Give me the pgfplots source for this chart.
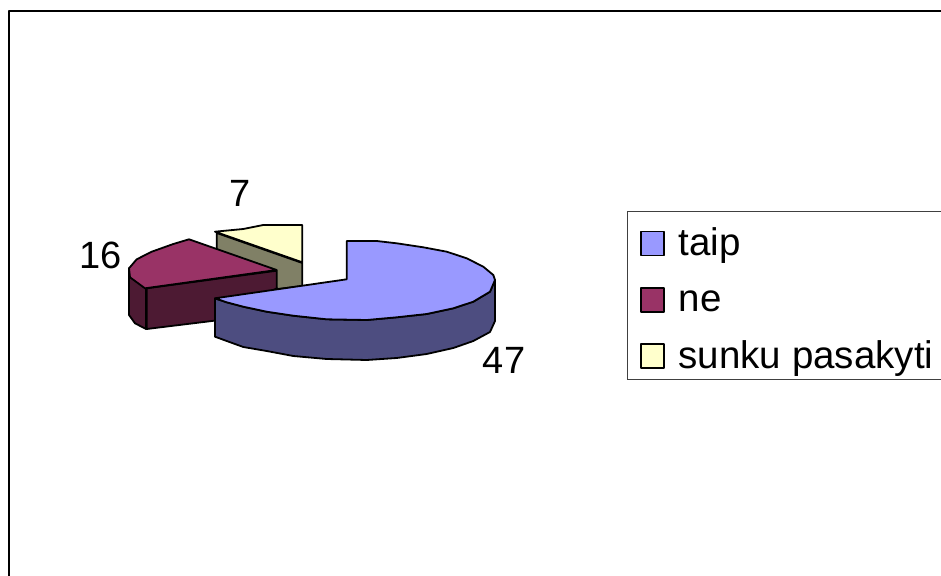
\documentclass[border=0pt]{standalone}
\usepackage{pgfplots}
\pgfplotsset{compat=1.18}
\usepackage{fontspec}
\setmainfont{Liberation Sans}
\definecolor{cblue}{HTML}{9999FF}
\definecolor{cblued}{HTML}{4D4D80}
\definecolor{cmar}{HTML}{993366}
\definecolor{cmard}{HTML}{4D1A33}
\definecolor{cyel}{HTML}{FFFFCC}
\definecolor{cyeld}{HTML}{808066}
\pgfplotsset{swatch/.style={legend image code/.code={\draw[##1] (0pt,0pt) rectangle (23pt,24pt); \path (35pt,0pt);}}}
\begin{document}
\begin{tikzpicture}
\path[use as bounding box] (0,0) rectangle (941pt,575pt);
\begin{axis}[
  at={(0,0)}, anchor=south west,
  scale only axis, width=941pt, height=575pt,
  xmin=0, xmax=941, ymin=0, ymax=575, y dir=reverse,
  hide axis, clip=true,
  legend cell align=left,
  legend style={at={(axis cs:626.7,211)}, anchor=north west, draw=black!75, line width=0.9pt,
    inner xsep=13pt, inner ysep=2pt, row sep=5pt,
    font=\fontsize{38.5}{40}\selectfont,
    nodes={inner sep=2pt, anchor=base west, text height=40pt, text depth=7.3pt}},
  every axis plot/.append style={line join=round},
]
\addlegendimage{swatch, draw=black, line width=1.5pt, fill=cblue}
\addlegendentry{taip}
\addlegendimage{swatch, draw=black, line width=1.5pt, fill=cmar}
\addlegendentry{ne}
\addlegendimage{swatch, draw=black, line width=1.5pt, fill=cyel}
\addlegendentry{sunku pasakyti}
% outer frame
\addplot[forget plot, draw=black, line width=2.2pt] coordinates {(9,580) (9,11) (945,11)};
% yellow slice
\addplot[forget plot, fill=cyeld, draw=black, line width=1.8pt] coordinates {(216.7,233) (302.3,263) (302.3,286) (278,289) (216.7,249)} --cycle;
\addplot[forget plot, fill=cyel, draw=black, line width=1.8pt] coordinates {(302.3,262.3) (302.3,225) (263.3,225) (243.3,229) (215,231.7)} --cycle;
% maroon slice
\addplot[forget plot, fill=cmard, draw=black, line width=1.8pt] coordinates {(129,268.3) (129,315) (135,323.3) (146,329) (146,288)} --cycle;
\addplot[forget plot, fill=cmard, draw=black, line width=1.8pt] coordinates {(146.7,288.3) (276.7,270.7) (276.7,288.3) (220,320) (146.7,329)} --cycle;
\addplot[forget plot, fill=cmar, draw=black, line width=1.8pt] coordinates {(276.7,270) (189,239.3) (173.3,244) (151.7,251.7) (136.7,259.3) (129,268.3) (130,277.3) (145,288.3)} --cycle;
% blue slice
\addplot[forget plot, fill=cblued, draw=black, line width=1.8pt] coordinates {(215,298.3) (215,336.7) (226.7,341) (243.3,347) (266.7,351) (293.3,356) (326.7,359) (366.7,360) (396.7,358) (426.7,354) (453.3,348) (473.3,341) (490,332) (495,321) (495,280) (490,291.7) (473.3,301.7) (453.3,308.3) (426.7,314) (396.7,317.3) (366.7,320) (326.7,319.3) (293.3,315.7) (266.7,311.7) (243.3,306.7) (226.7,302.3)} --cycle;
\addplot[forget plot, fill=cblue, draw=black, line width=1.8pt] coordinates {(346.7,279.3) (346.7,241) (376.7,241) (396.7,243.3) (423.3,247.3) (446.7,251.7) (466.7,258.3) (483.3,266.7) (493.3,275) (495,280) (490,291.7) (473.3,301.7) (453.3,308.3) (426.7,314) (396.7,317.3) (366.7,320) (326.7,319.3) (293.3,315.7) (266.7,311.7) (243.3,306.7) (226.7,302.3) (215,298.3)} --cycle;
\node[font=\fontsize{38}{40}\selectfont] at (axis cs:240,193) {7};
\node[font=\fontsize{38}{40}\selectfont] at (axis cs:101,255) {16};
\node[font=\fontsize{38}{40}\selectfont] at (axis cs:504,360) {47};
\end{axis}
\end{tikzpicture}
\end{document}
